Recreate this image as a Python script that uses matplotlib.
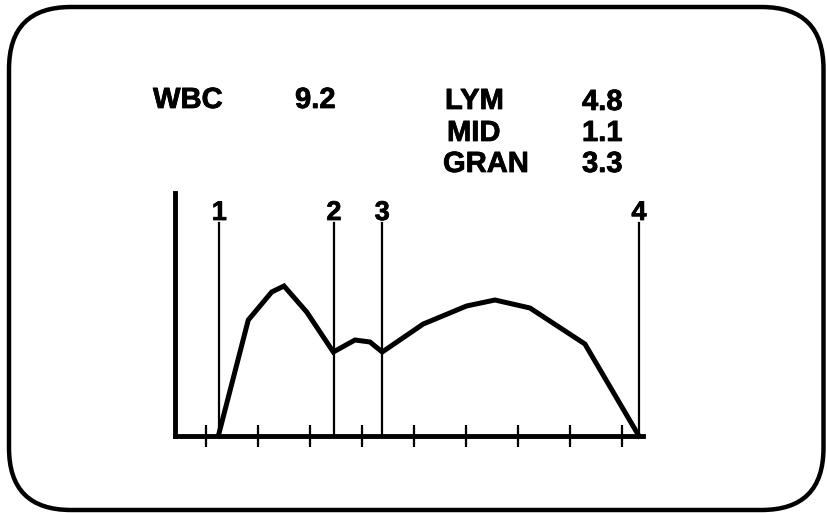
import matplotlib
matplotlib.use("Agg")
import matplotlib.pyplot as plt
import matplotlib.patheffects as pe
from matplotlib.patches import FancyBboxPatch
from matplotlib.transforms import IdentityTransform

# Data
curve_x = [61.8, 90.6, 113.1, 124.9, 146.7, 172.3, 193.1, 207.5, 219.3, 258.7, 300.3, 327.6, 361.2, 414.0, 465.9]
curve_y = [0, 58, 72, 75, 62, 42, 48, 47, 42, 56, 65, 68, 64, 46, 0]
divider_x = [62.8, 172.9, 219.3, 465.9]
divider_labels = ["1", "2", "3", "4"]
tick_x = [50, 100, 150, 200, 250, 300, 350, 400, 450]
wbc_label, wbc_value = "WBC", "9.2"
sub_labels = ["LYM", "MID", "GRAN"]
sub_values = ["4.8", "1.1", "3.3"]

W, H = 827, 513
fig = plt.figure(figsize=(W / 100, H / 100), dpi=100)
fig.patch.set_facecolor("white")
font = "Liberation Sans"
heavy = [pe.withStroke(linewidth=0.55, foreground="black")]

# rounded frame
box = FancyBboxPatch((9, 3), 814.5, 503, boxstyle="round,pad=0,rounding_size=62",
                     transform=IdentityTransform(), fill=False, edgecolor="black", linewidth=3.2)
fig.add_artist(box)

# axes: left 175px, right 643px, top 193px, bottom 436px (from top)
ax = fig.add_axes([175 / W, (H - 436) / H, (643 - 175) / W, (436 - 193) / H])
ax.set_xlim(20.2, 469.8)
ax.set_ylim(0, 121.5)
ax.patch.set_alpha(0)
for s in ["top", "right"]:
    ax.spines[s].set_visible(False)
for s in ["left", "bottom"]:
    ax.spines[s].set_linewidth(3.5)
    ax.spines[s].set_capstyle("projecting")
ax.set_xticks(tick_x)
ax.set_xticklabels([])
ax.set_yticks([])
ax.tick_params(axis="x", direction="inout", length=16, width=1.6, color="black")

ax.plot(curve_x, curve_y, color="black", linewidth=3.6, solid_joinstyle="miter", clip_on=False)

for xv, lab in zip(divider_x, divider_labels):
    ax.plot([xv, xv], [0, 106.5], color="black", linewidth=1.6, clip_on=False)
    ax.text(xv, 111.5, lab, ha="center", va="center", fontsize=19.5, fontweight="bold",
            family=font, path_effects=heavy)

def ftext(xpx, ypx, s, ha="left"):
    fig.text(xpx / W, (H - ypx) / H, s, ha=ha, va="center", fontsize=21,
             fontweight="bold", family=font, path_effects=heavy)

ftext(153, 100, wbc_label)
ftext(295, 100, wbc_value)
label_pos = [(445, 101), (447, 133), (443, 164)]
val_pos = [(582, 102), (582, 133), (582, 164)]
for (lx, ly), l in zip(label_pos, sub_labels):
    ftext(lx, ly, l)
for (vx, vy), v in zip(val_pos, sub_values):
    ftext(vx, vy, v)

fig.savefig("out.png", dpi=100, facecolor="white")
